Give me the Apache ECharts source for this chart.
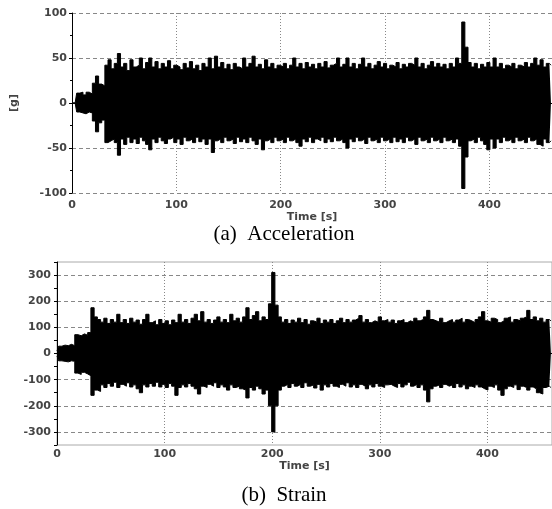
<!DOCTYPE html>
<html>
<head>
<meta charset="utf-8">
<title>Acceleration / Strain</title>
<script src="https://cdn.jsdelivr.net/npm/echarts@6.0.0/dist/echarts.min.js"></script>
<style>
  html, body { margin: 0; padding: 0; background: #fff; }
  #main { width: 552px; height: 509px; }
</style>
</head>
<body>
<div id="main"></div>
<script>
// sample step of the envelopes [s]
var STEP = 3;

// (a) Acceleration [g] - peak envelope read every 3 s
var accUpper = [0, 0, 11, 12, 9, 12, 10, 22, 30, 21, 19, 42, 48, 38, 44, 55, 40, 44, 36, 48,
  40, 42, 50, 38, 45, 50, 40, 46, 38, 44, 40, 47, 38, 42, 40, 37, 44, 39, 46, 38,
  42, 36, 44, 40, 50, 38, 52, 40, 45, 38, 43, 37, 44, 40, 38, 50, 40, 44, 52, 40,
  43, 38, 48, 40, 44, 38, 42, 40, 44, 38, 42, 50, 40, 44, 38, 45, 40, 43, 38, 44,
  40, 46, 39, 42, 44, 50, 40, 43, 50, 40, 44, 38, 43, 50, 40, 44, 38, 42, 46, 40,
  44, 38, 42, 40, 45, 38, 43, 40, 44, 42, 50, 40, 44, 38, 42, 46, 40, 44, 40, 43,
  38, 44, 40, 50, 44, 90, 62, 45, 40, 44, 38, 43, 40, 45, 40, 50, 40, 44, 38, 42,
  40, 44, 38, 42, 40, 45, 40, 44, 50, 42, 48, 40, 44, 42];
var accLower = [0, 0, -10, -11, -12, -10, -11, -20, -32, -22, -19, -44, -42, -40, -44, -58, -40, -46, -38, -44,
  -40, -45, -38, -42, -46, -52, -40, -44, -38, -42, -45, -40, -38, -44, -40, -46, -38, -42, -40, -44,
  -38, -43, -40, -46, -40, -55, -42, -40, -44, -38, -42, -40, -45, -38, -43, -40, -44, -38, -42, -46,
  -40, -52, -42, -40, -44, -38, -42, -40, -44, -38, -42, -40, -44, -48, -40, -43, -38, -44, -40, -42,
  -38, -44, -40, -43, -38, -42, -40, -44, -50, -40, -43, -38, -42, -40, -45, -38, -42, -40, -44, -38,
  -42, -40, -44, -38, -43, -40, -44, -38, -42, -40, -46, -38, -42, -40, -44, -38, -42, -40, -44, -38,
  -42, -40, -44, -40, -48, -95, -60, -42, -40, -44, -38, -42, -46, -52, -40, -50, -40, -44, -38, -42,
  -40, -44, -38, -42, -40, -44, -38, -42, -40, -46, -48, -40, -44, -42];

// (b) Strain - peak envelope read every 3 s
var strainUpper = [10, 28, 32, 30, 35, 30, 72, 68, 75, 70, 80, 175, 140, 130, 120, 135, 115, 130, 120, 150,
  118, 130, 115, 135, 120, 128, 112, 130, 150, 118, 125, 110, 130, 115, 125, 110, 128, 118, 150, 120,
  130, 115, 135, 150, 125, 160, 120, 130, 115, 128, 140, 120, 130, 118, 150, 125, 135, 120, 140, 175,
  130, 145, 160, 125, 140, 130, 190, 310, 185, 140, 120, 130, 115, 128, 120, 135, 118, 130, 112, 125,
  120, 135, 115, 128, 120, 130, 115, 125, 135, 118, 130, 120, 128, 135, 145, 120, 130, 118, 125, 120,
  140, 125, 130, 120, 128, 115, 125, 130, 118, 125, 120, 135, 125, 130, 140, 165, 130, 125, 120, 135,
  118, 125, 130, 120, 128, 135, 120, 130, 125, 118, 130, 140, 160, 125, 120, 135, 130, 118, 125, 135,
  140, 120, 130, 125, 135, 140, 165, 130, 140, 125, 135, 120, 130, 125];
var strainLower = [-10, -28, -30, -32, -28, -30, -75, -80, -72, -78, -85, -160, -140, -145, -120, -130, -115, -125, -110, -130,
  -118, -125, -112, -128, -120, -135, -150, -120, -128, -115, -125, -110, -128, -118, -130, -115, -125, -160, -130, -120,
  -128, -115, -125, -135, -155, -125, -130, -118, -125, -112, -130, -120, -128, -140, -120, -130, -125, -135, -140, -170,
  -130, -140, -125, -135, -155, -140, -200, -300, -200, -140, -125, -118, -130, -115, -125, -118, -130, -112, -125, -120,
  -132, -118, -140, -120, -128, -115, -125, -130, -118, -125, -112, -128, -120, -130, -118, -125, -135, -120, -128, -115,
  -125, -130, -120, -118, -125, -130, -115, -128, -120, -110, -125, -118, -130, -120, -140, -185, -135, -125, -120, -130,
  -118, -125, -120, -130, -115, -128, -120, -135, -125, -130, -120, -128, -135, -140, -125, -130, -120, -140, -160, -135,
  -125, -130, -120, -138, -125, -130, -140, -128, -135, -150, -155, -130, -125, -130];

var accTicks = [-100, -50, 0, 50, 100];
var strainTicks = [-300, -200, -100, 0, 100, 200, 300];
var timeTicks = [0, 100, 200, 300, 400];

// envelope -> [time, value]
function toPairs(arr) {
  return arr.map(function (v, i) { return [i * STEP, v]; });
}

var labelFont = { color: '#444', fontSize: 11, fontWeight: 'bold', fontFamily: 'DejaVu Sans' };

function xAxisOf(gridIndex, offset) {
  return {
    type: 'value', gridIndex: gridIndex, min: 0, max: 460, interval: 100, offset: offset,
    name: 'Time [s]', nameLocation: 'middle', nameGap: 15,
    nameTextStyle: labelFont,
    axisLine: { lineStyle: { color: '#000', width: 1 } },
    axisTick: { inside: false, length: 3, lineStyle: { color: '#000' } },
    minorTick: { show: true, splitNumber: 2, length: 2, lineStyle: { color: '#000' } },
    axisLabel: Object.assign({ margin: 4, customValues: timeTicks }, labelFont),
    splitLine: { show: true, lineStyle: { color: '#888', type: [1, 2], width: 1 } }
  };
}

function bandSeries(name, x, y, data) {
  return {
    name: name, type: 'line', xAxisIndex: x, yAxisIndex: y,
    data: toPairs(data), step: 'middle', symbol: 'none', sampling: 'none', silent: true,
    lineStyle: { color: '#000', width: 1 },
    areaStyle: { color: '#000', opacity: 1, origin: 0 }
  };
}

var myChart = echarts.init(document.getElementById('main'), null, { renderer: 'canvas' });

var option = {
  backgroundColor: '#fff',
  animation: false,
  title: [
    { text: '(a)  Acceleration', left: 279, top: 219, textAlign: 'center',
      textStyle: { fontFamily: 'Liberation Serif', fontSize: 21, fontWeight: 'normal', color: '#000' } },
    { text: '(b)  Strain', left: 279, top: 480, textAlign: 'center',
      textStyle: { fontFamily: 'Liberation Serif', fontSize: 21, fontWeight: 'normal', color: '#000' } }
  ],
  grid: [
    { left: 72, right: 0, top: 13, height: 180 },
    { left: 57, right: 0, top: 262, height: 183, show: true, borderColor: '#aaa', borderWidth: 1 }
  ],
  xAxis: [xAxisOf(0, 3), xAxisOf(1, 0)],
  yAxis: [
    {
      type: 'value', gridIndex: 0, min: -100, max: 100, interval: 50,
      name: '[g]', nameLocation: 'middle', nameRotate: 90, nameGap: 52,
      nameTextStyle: labelFont,
      axisLine: { show: true, lineStyle: { color: '#000', width: 1 } },
      axisTick: { show: true, inside: false, length: 3, lineStyle: { color: '#000' } },
      minorTick: { show: true, splitNumber: 2, length: 2, lineStyle: { color: '#000' } },
      axisLabel: Object.assign({ margin: 5, customValues: accTicks }, labelFont),
      splitLine: { show: true, lineStyle: { color: '#888', type: [4, 3], width: 1 } }
    },
    {
      type: 'value', gridIndex: 1, min: -350, max: 350, interval: 50,
      axisLine: { show: true, lineStyle: { color: '#000', width: 1 } },
      axisTick: { show: true, inside: false, length: 3, lineStyle: { color: '#000' } },
      axisLabel: Object.assign({ margin: 6, customValues: strainTicks }, labelFont),
      // only every second split line (the hundreds) is drawn
      splitLine: { show: true, lineStyle: { color: ['rgba(0,0,0,0)', '#888'], type: [4, 3], width: 1 } }
    }
  ],
  series: [
    bandSeries('acc+', 0, 0, accUpper),
    bandSeries('acc-', 0, 0, accLower),
    bandSeries('strain+', 1, 1, strainUpper),
    bandSeries('strain-', 1, 1, strainLower)
  ]
};

myChart.setOption(option);
</script>
</body>
</html>
